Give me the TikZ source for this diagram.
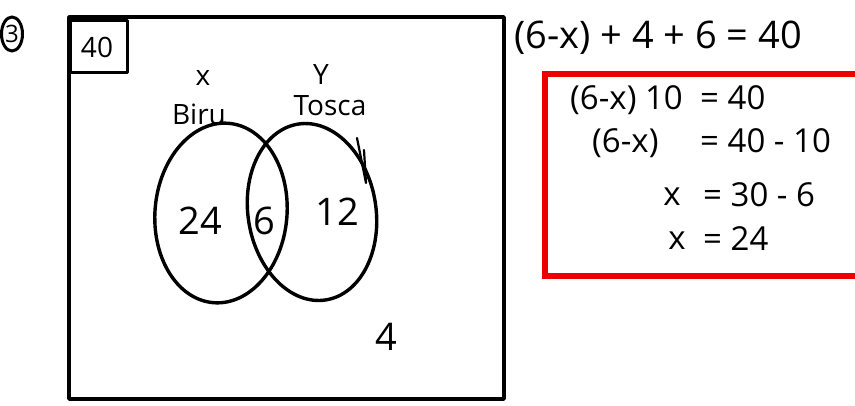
\documentclass[tikz,border=0pt]{standalone}
\usepackage{fontspec}
\setmainfont{Open Sans}
\usetikzlibrary{shapes.geometric}
\begin{document}
\begin{tikzpicture}[x=1pt,y=-1pt,
  ink/.style={line width=3.4pt,line cap=round,line join=round,draw=black},
  hand/.style={inner sep=0pt,font=\fontsize{38}{40}\selectfont},
  eq/.style={inner sep=0pt,font=\fontsize{33}{35}\selectfont},
  big/.style={inner sep=0pt,font=\fontsize{38}{40}\selectfont},
  mid/.style={inner sep=0pt,font=\fontsize{28}{30}\selectfont},
  setshape/.style={ellipse,ink,inner sep=0pt}]
\clip (0,0) rectangle (855,405);
\fill[white] (0,0) rectangle (855,405);
% question number
\coordinate (numc) at (12,34);
\draw[line width=3pt] (numc) ellipse [x radius=10.5pt, y radius=17pt];
\node[inner sep=0pt,font=\fontsize{24}{26}\selectfont] (num) at (numc) {3};
% universe box
\coordinate (u1) at (69,17);
\coordinate (u2) at (504,399);
\draw[ink] (u1) rectangle (u2);
\node[draw,ink,minimum width=57pt,minimum height=52pt,anchor=north west,inner sep=0pt] (tot) at (69,19) {};
\node[mid] (totv) at (97,47) {40};
% sets
\node[setshape,minimum width=132pt,minimum height=180pt,rotate=-5] (A) at (221,213) {};
\node[setshape,minimum width=128pt,minimum height=178pt,rotate=9] (B) at (312,212) {};
\draw[ink,line width=2.2pt] (357,138) -- (366,183) -- (364,150);
% labels
\node[mid] (lx) at (203,78) {x};
\node[mid] (lb) at (199,114) {Biru};
\node[mid] (ly) at (321,75) {Y};
\node[mid] (lt) at (330,106) {Tosca};
\node[big] (n1) at (200,221) {24};
\node[big] (n2) at (264,221) {6};
\node[big] (n3) at (337,212) {12};
\node[big] (n4) at (386,337) {4};
% equations
\node[hand,anchor=west] (e0) at (514,38) {(6-x) + 4 + 6 = 40};
\coordinate (r1) at (545,74);
\coordinate (r2) at (870,276);
\draw[line width=6pt,draw={rgb,255:red,236;green,0;blue,0}] (r1) rectangle (r2);
\node[eq,anchor=west] (e1a) at (570,100) {(6-x) 10};
\node[eq,anchor=west] (e1b) at (700,98) {= 40};
\node[eq,anchor=west] (e2a) at (592,143) {(6-x)};
\node[eq,anchor=west] (e2b) at (700,141) {= 40 - 10};
\node[eq] (e3a) at (672,197) {x};
\node[eq,anchor=west] (e3b) at (703,195) {= 30 - 6};
\node[eq] (e4a) at (677,241) {x};
\node[eq,anchor=west] (e4b) at (703,239) {= 24};
\end{tikzpicture}
\end{document}
